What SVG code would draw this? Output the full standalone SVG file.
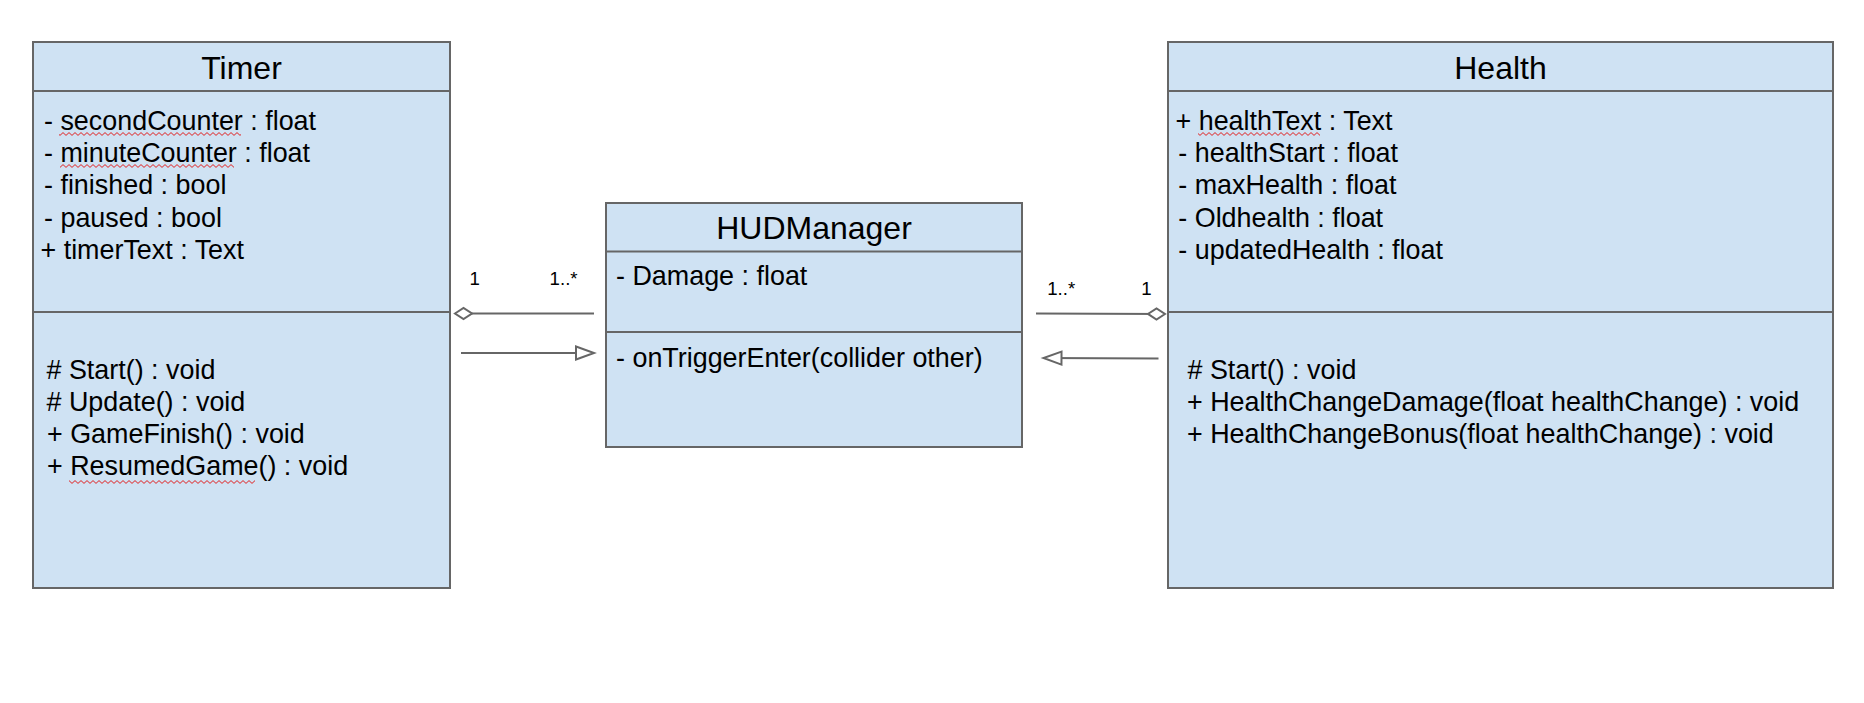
<svg xmlns="http://www.w3.org/2000/svg" width="1864" height="703" viewBox="0 0 1864 703">
<style>
.box{fill:#cfe2f3;stroke:#666666;stroke-width:2}
.sep{stroke:#666666;stroke-width:2;fill:none}
.title{font-family:"Liberation Sans",Arial,sans-serif;font-size:32px;fill:#000;text-anchor:middle}
.t{font-family:"Liberation Sans",Arial,sans-serif;font-size:26.9px;fill:#000}
.lbl{font-family:"Liberation Sans",Arial,sans-serif;font-size:18.67px;fill:#000}
.edge{stroke:#666666;stroke-width:2;fill:none}
.sq{fill:url(#squig)}
</style>
<defs>
<pattern id="squig" patternUnits="userSpaceOnUse" width="6" height="4">
<path d="M0,3.4 L3,0.6 L6,3.4" fill="none" stroke="#e02020" stroke-width="1"/>
</pattern>
<marker id="diamond" markerUnits="userSpaceOnUse" markerWidth="20" markerHeight="14" refX="1" refY="6" orient="auto" overflow="visible">
<path d="M1,6 L9.5,0.5 L18,6 L9.5,11.5 Z" fill="#ffffff" stroke="#666666" stroke-width="2"/>
</marker>
<marker id="tri" markerUnits="userSpaceOnUse" markerWidth="20" markerHeight="16" refX="18" refY="6.5" orient="auto" overflow="visible">
<path d="M0,0 L18,6.5 L0,13 Z" fill="#ffffff" stroke="#666666" stroke-width="2"/>
</marker>
</defs>
<rect width="1864" height="703" fill="#ffffff"/>

<g id="connectors">
<line class="edge" x1="455" y1="313.5" x2="594" y2="313.5" marker-start="url(#diamond)"/>
<line class="edge" x1="461" y1="353" x2="594" y2="353" marker-end="url(#tri)"/>
<line class="edge" x1="1165" y1="314" x2="1036" y2="313.5" marker-start="url(#diamond)"/>
<line class="edge" x1="1158.5" y1="358.5" x2="1043.5" y2="358" marker-end="url(#tri)"/>
<text class="lbl" x="469.6" y="285">1</text>
<text class="lbl" x="549.6" y="285">1..*</text>
<text class="lbl" x="1047.2" y="295">1..*</text>
<text class="lbl" x="1141.2" y="295">1</text>
</g>

<g id="timer">
<rect class="box" x="33" y="42" width="417" height="546"/>
<line class="sep" x1="33" y1="91" x2="450" y2="91"/>
<line class="sep" x1="33" y1="312" x2="450" y2="312"/>
<text class="title" x="241.5" y="79.3">Timer</text>
<text class="t" x="44" y="130">- secondCounter : float</text>
<text class="t" x="44" y="162">- minuteCounter : float</text>
<text class="t" x="44" y="194.3">- finished : bool</text>
<text class="t" x="44" y="226.7">- paused : bool</text>
<text class="t" x="40.5" y="259.3">+ timerText : Text</text>
<rect class="sq" x="59" y="132" width="182" height="4"/>
<rect class="sq" x="60" y="164" width="174" height="4"/>
<text class="t" x="46.5" y="379.3">
<tspan x="46.5" y="379.3"># Start() : void</tspan>
<tspan x="46.5" y="411.3"># Update() : void</tspan>
<tspan x="47" y="443.3">+ GameFinish() : void</tspan>
<tspan x="47" y="475.3">+ ResumedGame() : void</tspan>
</text>
<rect class="sq" x="69" y="480" width="186" height="4"/>
</g>

<g id="hudmanager">
<rect class="box" x="606" y="203" width="416" height="244"/>
<line class="sep" x1="606" y1="251.5" x2="1022" y2="251.5"/>
<line class="sep" x1="606" y1="332" x2="1022" y2="332"/>
<text class="title" x="814" y="239.3">HUDManager</text>
<text class="t" x="616" y="285">- Damage : float</text>
<text class="t" x="616" y="366.7">- onTriggerEnter(collider other)</text>
</g>

<g id="health">
<rect class="box" x="1168" y="42" width="665" height="546"/>
<line class="sep" x1="1168" y1="91" x2="1833" y2="91"/>
<line class="sep" x1="1168" y1="312" x2="1833" y2="312"/>
<text class="title" x="1500.5" y="79.3">Health</text>
<text class="t" x="1175.5" y="130">+ healthText : Text</text>
<text class="t" x="1178.3" y="162">- healthStart : float</text>
<text class="t" x="1178.3" y="194.3">- maxHealth : float</text>
<text class="t" x="1178.3" y="226.7">- Oldhealth : float</text>
<text class="t" x="1178.3" y="259.3">- updatedHealth : float</text>
<rect class="sq" x="1198" y="132" width="122" height="4"/>
<text class="t" x="1187.5" y="379.3">
<tspan x="1187.5" y="379.3"># Start() : void</tspan>
<tspan x="1187" y="411.3">+ HealthChangeDamage(float healthChange) : void</tspan>
<tspan x="1187" y="443.3">+ HealthChangeBonus(float healthChange) : void</tspan>
</text>
</g>
</svg>
